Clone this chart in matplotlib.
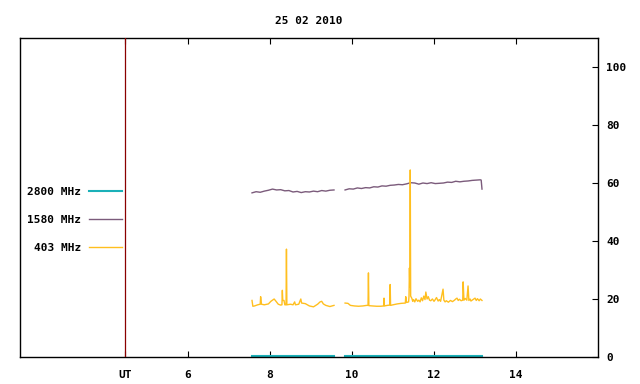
import numpy as np
import matplotlib
matplotlib.use("Agg")
import matplotlib.pyplot as plt

plt.rcParams['font.family'] = ['DejaVu Sans Mono']
plt.rcParams['font.weight'] = 'bold'

title = "25 02 2010"
ut_hour = 4.46

# 2800 MHz (sits at the bottom)
t_2800 = [7.56, 9.56, np.nan, 9.83, 13.17]
v_2800 = [0.3, 0.3, np.nan, 0.3, 0.3]

# 1580 MHz
t_1580 = [7.56, 7.66, 7.76, 7.86, 7.96, 8.06, 8.16, 8.26, 8.36, 8.46, 8.56,
          8.66, 8.76, 8.86, 8.96, 9.06, 9.16, 9.26, 9.36, 9.46, 9.56, np.nan,
          9.83, 9.93, 10.03, 10.13, 10.23, 10.33, 10.43, 10.53, 10.63, 10.73,
          10.83, 10.93, 11.03, 11.13, 11.23, 11.33, 11.43, 11.53, 11.63, 11.73,
          11.83, 11.93, 12.03, 12.13, 12.23, 12.33, 12.43, 12.53, 12.63, 12.73,
          12.83, 12.93, 13.03, 13.13, 13.15, 13.17]
v_1580 = [56.6, 57.0, 56.8, 57.2, 57.5, 57.9, 57.6, 57.7, 57.3, 57.4, 56.9,
          57.1, 56.7, 57.0, 56.9, 57.2, 57.0, 57.4, 57.2, 57.5, 57.6, np.nan,
          57.6, 58.0, 57.9, 58.3, 58.1, 58.4, 58.3, 58.7, 58.6, 59.0,
          58.9, 59.2, 59.3, 59.5, 59.4, 59.7, 60.1, 60.0, 59.6, 60.0,
          59.8, 60.1, 59.8, 59.9, 60.0, 60.3, 60.2, 60.6, 60.4, 60.6,
          60.7, 60.9, 61.0, 61.1, 61.0, 57.9]

# 403 MHz
t_403 = [7.56, 7.58, 7.62, 7.70, 7.76, 7.77, 7.79, 7.86, 7.96, 8.02, 8.06,
         8.10, 8.14, 8.20, 8.26, 8.29, 8.30, 8.31, 8.34, 8.36, 8.39, 8.40,
         8.41, 8.50, 8.56, 8.60, 8.62, 8.70, 8.75, 8.77, 8.86, 8.96, 9.06,
         9.16, 9.22, 9.26, 9.30, 9.36, 9.46, 9.56, np.nan,
         9.83, 9.90, 9.96, 10.06, 10.16, 10.26, 10.36, 10.39, 10.40, 10.41,
         10.50, 10.60, 10.70, 10.77, 10.78, 10.79, 10.86, 10.92, 10.93, 10.94,
         11.00, 11.10, 11.20, 11.30, 11.31, 11.33, 11.38, 11.39, 11.40, 11.41,
         11.42, 11.43, 11.46, 11.48, 11.50, 11.53, 11.56, 11.60, 11.63, 11.66,
         11.69, 11.72, 11.75, 11.78, 11.80, 11.83, 11.86, 11.89, 11.92, 11.96,
         12.00, 12.03, 12.06, 12.10, 12.13, 12.16, 12.22, 12.24, 12.27, 12.30,
         12.35, 12.40, 12.45, 12.50, 12.53, 12.56, 12.59, 12.62, 12.66, 12.70,
         12.71, 12.73, 12.76, 12.80, 12.83, 12.85, 12.88, 12.90, 12.95, 13.00,
         13.03, 13.06, 13.10, 13.13, 13.17]
v_403 = [19.5, 17.5, 17.6, 18.0, 18.2, 20.8, 18.2, 18.0, 18.3, 19.2, 19.6,
         20.0, 19.3, 18.2, 17.9, 18.0, 23.0, 19.5, 19.5, 18.0, 18.0, 37.2,
         18.0, 18.2, 18.0, 19.0, 18.0, 18.2, 20.0, 18.6, 18.4, 17.6, 17.3,
         18.2, 19.0, 19.2, 18.3, 17.8, 17.4, 17.8, np.nan,
         18.6, 18.5, 17.8, 17.6, 17.5, 17.6, 17.8, 17.8, 29.0, 17.7,
         17.6, 17.5, 17.5, 17.6, 20.3, 17.6, 17.8, 17.9, 25.0, 17.8,
         18.0, 18.3, 18.5, 18.6, 20.8, 18.8, 19.0, 21.0, 30.7, 24.0,
         64.5, 21.0, 20.2, 19.2, 19.8, 19.0, 20.1, 19.2, 19.6, 19.0,
         20.4, 19.4, 21.0, 19.8, 22.4, 20.0, 20.8, 19.6, 19.4, 20.0,
         19.2, 19.8, 20.5, 19.3, 19.8, 19.2, 23.4, 19.6, 19.0, 19.4,
         18.9, 19.5, 19.1, 19.6, 20.0, 20.3, 19.5, 19.9, 19.4, 19.6,
         25.9, 19.6, 20.2, 19.6, 24.5, 19.5, 20.0, 19.3, 19.8, 20.3,
         19.5, 20.1, 19.4, 20.0, 19.5]

xticks = [ut_hour, 6, 8, 10, 12, 14]
xlabels = ["UT", "6", "8", "10", "12", "14"]
yticks = [0, 20, 40, 60, 80, 100]

fig = plt.figure(figsize=(6.4, 3.84), dpi=100)
ax = fig.add_axes([20/640, 1 - 357/384, 578/640, 319/384])

ax.plot(t_2800, v_2800, color='#1ab0b8', lw=1.5, label='2800 MHz')
ax.plot(t_1580, v_1580, color='#7b5b7b', lw=1.0, label='1580 MHz')
ax.plot(t_403, v_403, color='#ffbf1f', lw=1.0, label='403 MHz')
ax.axvline(ut_hour, color='#8a0000', lw=0.9, zorder=5)

ax.set_xlim(1.9, 16.0)
ax.set_ylim(0, 110)
ax.set_xticks(xticks)
ax.set_xticklabels(xlabels)
ax.set_yticks(yticks)
ax.tick_params(axis='x', direction='in', top=True, bottom=True, length=4,
               pad=9, labelsize=8)
ax.tick_params(axis='y', direction='in', left=False, right=True,
               labelleft=False, labelright=True, length=4, pad=6, labelsize=8)
for s in ax.spines.values():
    s.set_linewidth(1.0)

ax.set_title(title, fontsize=8, fontweight='bold', pad=10)

ax.legend(loc='center right', bbox_to_anchor=(122/640, 1 - 220/384),
          bbox_transform=fig.transFigure, frameon=False, markerfirst=False,
          fontsize=8, handlelength=3.0, handletextpad=0.7, labelspacing=1.62,
          borderpad=0, borderaxespad=0)

fig.savefig('out.png', dpi=100)
